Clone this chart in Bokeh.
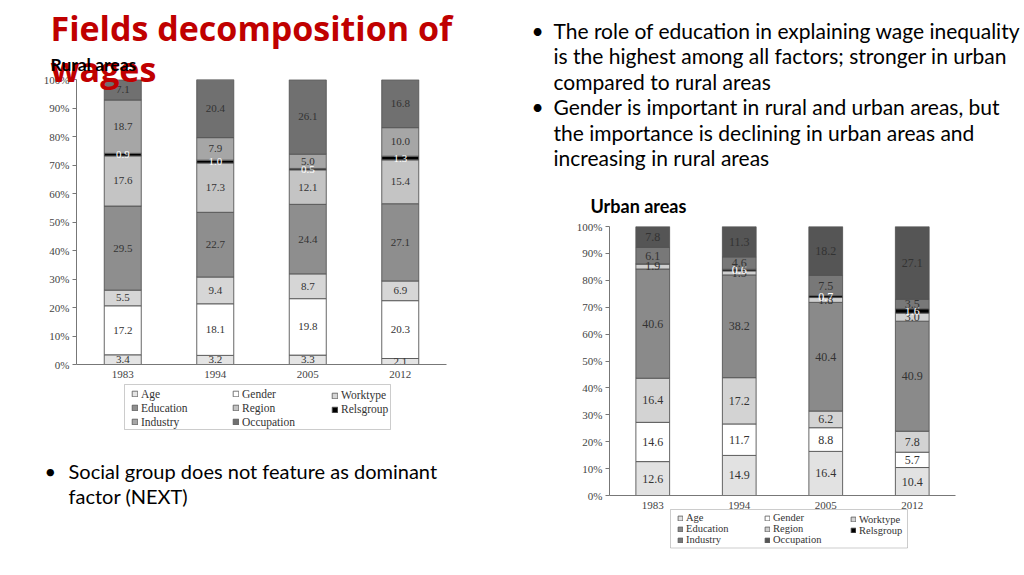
import numpy as np
from bokeh.plotting import figure
from bokeh.models import (ColumnDataSource, Range1d, FactorRange, Legend, LegendItem,
                          FixedTicker, PrintfTickFormatter, GridBox, BoxAnnotation)
from bokeh.layouts import row
from bokeh.embed import file_html
from bokeh.resources import INLINE
from bokeh.core.properties import value

# ---------------- data ----------------
years = ["1983", "1994", "2005", "2012"]
fields = ["Age", "Gender", "Worktype", "Education", "Region", "Relsgroup", "Industry", "Occupation"]

rural_age = [3.4, 3.2, 3.3, 2.1]
rural_gender = [17.2, 18.1, 19.8, 20.3]
rural_worktype = [5.5, 9.4, 8.7, 6.9]
rural_education = [29.5, 22.7, 24.4, 27.1]
rural_region = [17.6, 17.3, 12.1, 15.4]
rural_relsgroup = [0.9, 1.0, 0.5, 1.3]
rural_industry = [18.7, 7.9, 5.0, 10.0]
rural_occupation = [7.1, 20.4, 26.1, 16.8]

urban_age = [12.6, 14.9, 16.4, 10.4]
urban_gender = [14.6, 11.7, 8.8, 5.7]
urban_worktype = [16.4, 17.2, 6.2, 7.8]
urban_education = [40.6, 38.2, 40.4, 40.9]
urban_region = [1.9, 1.5, 1.8, 3.0]
urban_relsgroup = [0.0, 0.6, 0.7, 1.6]
urban_industry = [6.1, 4.6, 7.5, 3.5]
urban_occupation = [7.8, 11.3, 18.2, 27.1]

rural_colors = ["#e4e4e4", "#ffffff", "#d6d6d6", "#8e8e8e", "#c4c4c4", "#000000", "#a6a6a6", "#707070"]
urban_colors = ["#e2e2e2", "#ffffff", "#d3d3d3", "#8a8a8a", "#cfcfcf", "#000000", "#787878", "#555555"]

# legend columns as laid out in the source figure
legend_columns = [["Age", "Education", "Industry"],
                  ["Gender", "Region", "Occupation"],
                  ["Worktype", "Relsgroup"]]

title_lines = ["Fields decomposition of", "wages"]
rural_title = "Rural areas"
urban_title = "Urban areas"
bullets_right = [
    ("•", "The role of education in explaining wage inequality"),
    ("", "is the highest among all factors; stronger in urban"),
    ("", "compared to rural areas"),
    ("•", "Gender is important in rural and urban areas, but"),
    ("", "the importance is declining in urban areas and"),
    ("", "increasing in rural areas"),
]
bullets_left = [("•", "Social group does not feature as dominant"), ("", "factor (NEXT)")]

rural = [rural_age, rural_gender, rural_worktype, rural_education, rural_region,
         rural_relsgroup, rural_industry, rural_occupation]
urban = [urban_age, urban_gender, urban_worktype, urban_education, urban_region,
         urban_relsgroup, urban_industry, urban_occupation]

SERIF = "Liberation Serif"
SANS = "Lato"
PW, PH = 1024, 575
W = PW // 2


def make_chart(series, colors, frame, tick_size, val_size, bar_w):
    ml, mr, mt, mb = frame
    p = figure(width=W, height=PH, x_range=FactorRange(*years), y_range=Range1d(0, 100),
               output_backend="svg", toolbar_location=None, frame_align=False,
               min_border_left=ml, min_border_right=mr, min_border_top=mt, min_border_bottom=mb)
    p.outline_line_color = None
    p.background_fill_alpha = 0
    p.border_fill_alpha = 0
    p.xgrid.visible = False
    p.ygrid.visible = False
    data = {"year": years}
    for f, s in zip(fields, series):
        data[f] = s
    src = ColumnDataSource(data)
    p.vbar_stack(fields, x="year", width=bar_w, source=src, fill_color=colors,
                 line_color="#555555", line_width=0.9)
    arr = np.array(series)
    cum = np.cumsum(arr, axis=0)
    centers = cum - arr / 2
    lx, ly, lt, lc = [], [], [], []
    for i, f in enumerate(fields):
        for j, y in enumerate(years):
            if arr[i, j] > 0:
                lx.append(y)
                ly.append(centers[i, j])
                lt.append(f"{arr[i, j]:.1f}")
                lc.append("#ffffff" if f == "Relsgroup" else "#333333")
    p.text(x=lx, y=ly, text=lt, text_color=lc, text_align="center", text_baseline="middle",
           text_font=value(SERIF), text_font_size=val_size)
    p.yaxis.ticker = FixedTicker(ticks=list(range(0, 101, 10)))
    p.yaxis.formatter = PrintfTickFormatter(format="%d%%")
    p.yaxis.minor_tick_line_color = None
    p.yaxis.major_tick_in = 0
    p.yaxis.major_tick_out = 4
    p.yaxis.major_label_standoff = 3
    for ax in (p.xaxis, p.yaxis):
        ax.axis_line_color = "#777777"
        ax.major_tick_line_color = "#777777"
        ax.major_label_text_font = SERIF
        ax.major_label_text_font_size = tick_size
        ax.major_label_text_color = "#444444"
    p.xaxis.major_tick_line_color = None
    p.xaxis.major_label_standoff = 0
    return p


# rural frame: x 76..446, y 79..364 ; urban frame: x 609..955, y 226..495
pl = make_chart(rural, rural_colors, (76, W - 446, 79, PH - 364), "11px", "11px", 0.4)
pr = make_chart(urban, urban_colors, (609 - W, PW - 955, 226, PH - 495), "11px", "12px", 0.39)

# ----- slide text / legend layer (page pixel coordinates) -----
tf = figure(width=PW, height=PH, x_range=Range1d(0, PW), y_range=Range1d(PH, 0),
            output_backend="svg", toolbar_location=None, x_axis_location=None, y_axis_location=None,
            min_border=0, frame_align=False)
tf.outline_line_color = None
tf.background_fill_alpha = 0
tf.border_fill_alpha = 0
tf.xgrid.visible = False
tf.ygrid.visible = False


def put(x, y, t, font, size, color="#000000", style="normal"):
    tf.text(x=[x], y=[y], text=[t], text_font=value(font), text_font_size=size,
            text_font_style=style, text_color=color, text_baseline="alphabetic")


put(50, 27, title_lines[0], "Open Sans", "34px", "#c00000", "bold")
put(50, 68, title_lines[1], "Open Sans", "34px", "#c00000", "bold")
put(50, 64, rural_title, SANS, "17.5px", "#000000", "bold")
put(590, 205, urban_title, SANS, "18px", "#000000", "bold")
for k, (dot, t) in enumerate(bullets_right):
    yb = 30 + k * 25.4
    if dot:
        put(531, yb, dot, SANS, "21px")
    put(553, yb, t, SANS, "21px")
for k, (dot, t) in enumerate(bullets_left):
    yb = 470 + k * 25.5
    if dot:
        put(44, yb, dot, SANS, "20px")
    put(68, yb, t, SANS, "20px")


def add_legend(colors, box, col_x, top, row_h, font_size, glyph):
    l, r, t, b = box
    tf.add_layout(BoxAnnotation(left=l, right=r, top=t, bottom=b, fill_color="#ffffff",
                                fill_alpha=1.0, line_color="#555555", line_width=1))
    rend = {}
    for f, c in zip(fields, colors):
        rend[f] = tf.vbar(x=[float("nan")], top=[float("nan")], width=1, fill_color=c,
                          line_color="#555555", line_width=0.8)
    for cx, names, dy in zip(col_x, legend_columns, (0, 0, 1.5)):
        items = [LegendItem(label=n, renderers=[rend[n]]) for n in names]
        bottom = top + dy + row_h * len(names)
        leg = Legend(items=items, location=(cx, PH - bottom), border_line_color=None,
                     background_fill_alpha=0, padding=0, margin=0, spacing=0,
                     glyph_width=glyph, glyph_height=glyph, label_height=row_h, label_width=10,
                     label_standoff=3, label_text_font=SERIF, label_text_color="#333333",
                     label_text_font_size=font_size)
        tf.add_layout(leg, "center")


add_legend(rural_colors, (124, 390, 384, 429), (131, 232, 331), 386.5, 14, "11.5px", 7)
add_legend(urban_colors, (670, 907, 509, 547.5), (677, 764, 850), 512, 11, "10.5px", 6)

charts = row(pl, pr)
layout = GridBox(children=[(charts, 0, 0), (tf, 0, 0)])
open("out.html", "w").write(file_html(layout, INLINE))
